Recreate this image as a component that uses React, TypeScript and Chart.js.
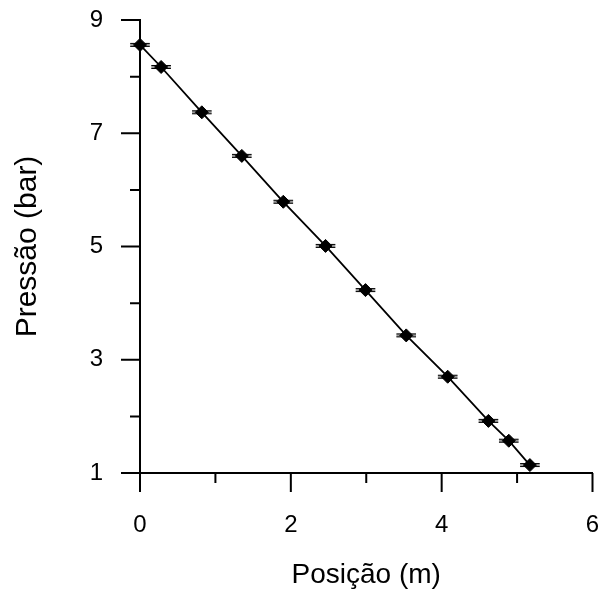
import React, { useEffect, useRef } from "react";
import { Chart, registerables } from "chart.js";

Chart.register(...registerables);

// Pressure measured along the pipe
const positions = [0, 0.28, 0.82, 1.35, 1.9, 2.46, 2.99, 3.53, 4.08, 4.62, 4.89, 5.17];
const pressures = [8.56, 8.17, 7.37, 6.6, 5.79, 5.01, 4.23, 3.43, 2.7, 1.92, 1.57, 1.14];
const positionErrors = [0.13, 0.13, 0.13, 0.13, 0.13, 0.13, 0.13, 0.13, 0.13, 0.13, 0.13, 0.13];

const xTickValues = [0, 1, 2, 3, 4, 5, 6];
const xTickLabels = ["0", "", "2", "", "4", "", "6"];
const yTickValues = [1, 2, 3, 4, 5, 6, 7, 8, 9];
const yTickLabels = ["1", "", "3", "", "5", "", "7", "", "9"];

const FONT = "'Liberation Sans', Arial, sans-serif";

// Horizontal error bars behind each marker
const errorBarPlugin = {
  id: "errorBars",
  beforeDatasetsDraw(chart: any) {
    const { ctx, scales } = chart;
    const xs = scales.x;
    const ys = scales.y;
    ctx.save();
    positions.forEach((x, i) => {
      const e = positionErrors[i];
      const x0 = xs.getPixelForValue(x - e);
      const x1 = xs.getPixelForValue(x + e);
      const y = ys.getPixelForValue(pressures[i]);
      ctx.fillStyle = "#9a9a9a";
      ctx.fillRect(x0, y - 1.5, x1 - x0, 3);
      ctx.strokeStyle = "#000";
      ctx.lineWidth = 1;
      ctx.beginPath();
      ctx.moveTo(x0, y - 1.5);
      ctx.lineTo(x1, y - 1.5);
      ctx.moveTo(x0, y + 1.5);
      ctx.lineTo(x1, y + 1.5);
      ctx.stroke();
    });
    ctx.restore();
  },
};

// Outward tick marks: long for labelled values, short for the others
const tickMarksPlugin = {
  id: "tickMarks",
  afterDraw(chart: any) {
    const { ctx, scales } = chart;
    const xs = scales.x;
    const ys = scales.y;
    const axisX = xs.getPixelForValue(0);
    const axisY = ys.getPixelForValue(1);
    ctx.save();
    ctx.strokeStyle = "#000";
    ctx.lineWidth = 2;
    ctx.beginPath();
    xTickValues.forEach((v, i) => {
      const px = xs.getPixelForValue(v);
      const len = xTickLabels[i] ? 19 : 10;
      ctx.moveTo(px, axisY);
      ctx.lineTo(px, axisY + len);
    });
    yTickValues.forEach((v, i) => {
      const py = ys.getPixelForValue(v);
      const len = yTickLabels[i] ? 19 : 10;
      ctx.moveTo(axisX, py);
      ctx.lineTo(axisX - len, py);
    });
    ctx.stroke();
    ctx.restore();
  },
};

export default function App() {
  const canvasRef = useRef<HTMLCanvasElement | null>(null);

  useEffect(() => {
    const canvas = canvasRef.current;
    if (!canvas) return;
    const chart = new Chart(canvas, {
      type: "scatter",
      data: {
        datasets: [
          {
            data: positions.map((x, i) => ({ x, y: pressures[i] })),
            showLine: true,
            clip: false,
            borderColor: "#000",
            borderWidth: 1.8,
            backgroundColor: "#000",
            pointStyle: "rectRot",
            pointRadius: 6.5,
            pointBorderWidth: 1,
            pointBorderColor: "#000",
            pointBackgroundColor: "#000",
          },
        ],
      },
      options: {
        responsive: false,
        animation: false,
        layout: { padding: { left: 0, right: 6, top: 20, bottom: 0 } },
        plugins: { legend: { display: false }, tooltip: { enabled: false } },
        scales: {
          x: {
            type: "linear",
            min: 0,
            max: 6,
            afterBuildTicks(scale: any) {
              scale.ticks = xTickValues.map((value) => ({ value }));
            },
            afterFit(scale: any) {
              scale.height = 116;
              scale.paddingLeft = 0;
              scale.paddingRight = 0;
            },
            grid: { display: false, drawTicks: false },
            border: { display: true, color: "#000", width: 2 },
            ticks: {
              padding: 38,
              color: "#000",
              maxRotation: 0,
              autoSkip: false,
              font: { family: FONT, size: 24 },
              callback: (_v: any, i: number) => xTickLabels[i],
            },
            title: {
              display: true,
              text: "Posição (m)",
              color: "#000",
              font: { family: FONT, size: 28 },
              padding: { top: 0, bottom: -3 },
            },
          },
          y: {
            type: "linear",
            min: 1,
            max: 9,
            afterBuildTicks(scale: any) {
              scale.ticks = yTickValues.map((value) => ({ value }));
            },
            afterFit(scale: any) {
              scale.width = 140;
              scale.paddingTop = 0;
              scale.paddingBottom = 0;
            },
            grid: { display: false, drawTicks: false },
            border: { display: true, color: "#000", width: 2 },
            ticks: {
              padding: 37,
              color: "#000",
              autoSkip: false,
              font: { family: FONT, size: 24 },
              callback: (_v: any, i: number) => yTickLabels[i],
            },
            title: {
              display: true,
              text: "Pressão (bar)",
              color: "#000",
              font: { family: FONT, size: 30 },
              padding: { top: 10, bottom: 0 },
            },
          },
        },
      },
      plugins: [errorBarPlugin, tickMarksPlugin],
    } as any);
    return () => chart.destroy();
  }, []);

  return (
    <div style={{ position: "fixed", left: 0, top: 0, width: 600, height: 589, background: "#fff" }}>
      <canvas ref={canvasRef} width={600} height={589} />
    </div>
  );
}
